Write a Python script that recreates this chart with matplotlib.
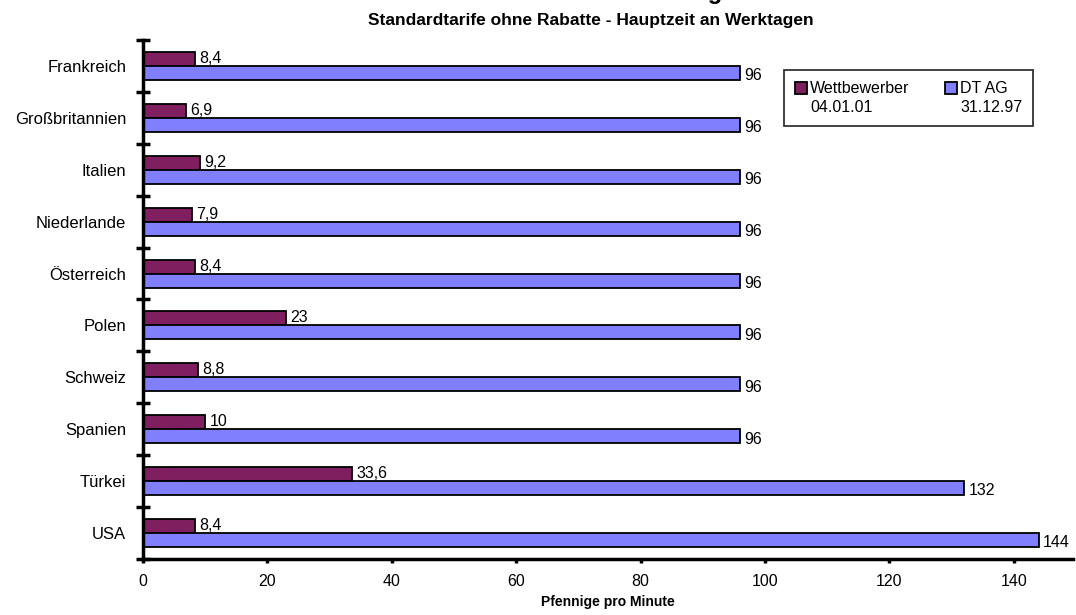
import matplotlib
matplotlib.use("Agg")
import matplotlib.pyplot as plt
import matplotlib.patches as mpatches
from matplotlib.container import BarContainer
from matplotlib.legend_handler import HandlerPatch, update_from_first_child
import numpy as np

plt.rcParams['font.family'] = ['Liberation Sans', 'DejaVu Sans']

# data (Pfennige pro Minute)
laender = ["Frankreich", "Großbritannien", "Italien", "Niederlande", "Österreich",
           "Polen", "Schweiz", "Spanien", "Türkei", "USA"]
wettbewerber = [8.4, 6.9, 9.2, 7.9, 8.4, 23, 8.8, 10, 33.6, 8.4]
dtag = [96, 96, 96, 96, 96, 96, 96, 96, 132, 144]
wett_labels = ["8,4", "6,9", "9,2", "7,9", "8,4", "23", "8,8", "10", "33,6", "8,4"]
dtag_labels = ["96", "96", "96", "96", "96", "96", "96", "96", "132", "144"]

col_w = "#7f1f5f"
col_d = "#8080ff"

fig = plt.figure(figsize=(10.76, 6.15), dpi=100)
ax = fig.add_axes([143/1076, 1-559/615, 930/1076, (559-40)/615])

y = np.arange(len(laender))
h = 0.27
ax.barh(y - h/2, wettbewerber, height=h, color=col_w, edgecolor="black", linewidth=1.3,
        label="Wettbewerber\n04.01.01")
ax.barh(y + h/2, dtag, height=h, color=col_d, edgecolor="black", linewidth=1.3,
        label="DT AG\n31.12.97")

for i in range(len(laender)):
    ax.annotate(wett_labels[i], (wettbewerber[i], y[i]), xytext=(3, 0),
                textcoords="offset points", va="bottom", ha="left", fontsize=11.5)
    ax.annotate(dtag_labels[i], (dtag[i], y[i] + h/2), xytext=(3, -2),
                textcoords="offset points", va="center", ha="left", fontsize=11.5)

ax.set_ylim(len(laender) - 0.5, -0.5)
ax.set_xlim(0, 149.5)

ax.set_yticks(y)
ax.set_yticklabels(laender, fontsize=12)
ax.set_yticks(np.arange(-0.5, len(laender), 1), minor=True)
ax.tick_params(axis="y", which="major", length=0, pad=12)
ax.tick_params(axis="y", which="minor", length=10, width=2.5, direction="inout")

ax.set_xticks(np.arange(0, 141, 20))
ax.tick_params(axis="x", which="major", length=3, width=2.5, direction="out", labelsize=11.5, pad=8)
ax.set_xlabel("Pfennige pro Minute", fontsize=10, fontweight="bold", labelpad=4)

for s in ["top", "right"]:
    ax.spines[s].set_visible(False)
for s in ["left", "bottom"]:
    ax.spines[s].set_linewidth(2.5)

fig.text(591/1076, 1-20/615, "Standardtarife ohne Rabatte - Hauptzeit an Werktagen",
         ha="center", va="center", fontsize=12.5, fontweight="bold")
# main title, mostly outside the visible canvas
fig.text(591/1076, 1 + 1/615, "Internationale Tarife im Vergleich",
         ha="center", va="baseline", fontsize=17, fontweight="bold")


# legend square sits next to the first text line
def oben(legend, orig_handle, xdescent, ydescent, width, height, fontsize):
    return mpatches.Rectangle((-xdescent, -ydescent + 7.5), width, height)


leg = ax.legend(loc="upper left", bbox_to_anchor=((784-143)/930, 1-(70-40)/519),
                ncol=2, fontsize=11.5, frameon=True, fancybox=False,
                handlelength=0.75, handleheight=0.75, handletextpad=0.2,
                columnspacing=2.2, borderpad=0.7, borderaxespad=0,
                handler_map={BarContainer: HandlerPatch(patch_func=oben,
                                                        update_func=update_from_first_child)})
leg.get_frame().set_edgecolor("black")
leg.get_frame().set_linewidth(1.3)
for t in leg.get_texts():
    t.set_linespacing(1.3)

fig.savefig("out.png", dpi=100)
